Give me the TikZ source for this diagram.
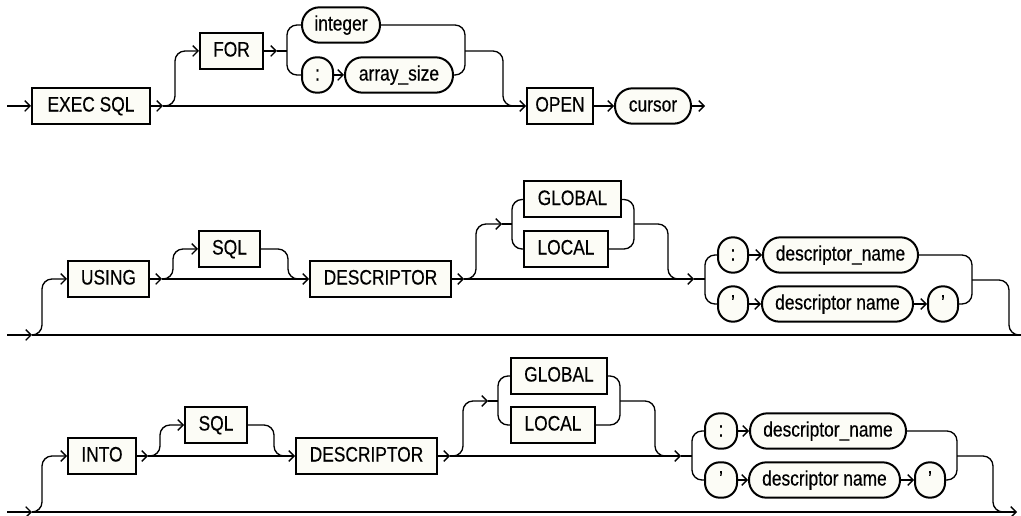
\documentclass[tikz,border=0pt]{standalone}
\usepackage{fontspec}
\setmainfont{Liberation Sans}[FakeStretch=0.83,FakeBold=0.4]
\usetikzlibrary{arrows.meta}
\definecolor{boxfill}{RGB}{252,252,246}
\begin{document}
\begin{tikzpicture}[x=0.75pt,y=-0.75pt,
  line width=1pt,
  arr/.style={-{Straight Barb[length=4pt,width=8pt,line width=1pt]}},
  rc/.style={rounded corners=7.5pt},
  base/.style={draw, line width=1.5pt, fill=boxfill, inner sep=0pt,
    font=\fontsize{15.7}{18}\selectfont, text height=11.3pt, text depth=3pt},
  kw/.style={base, rectangle, minimum height=27pt},
  var/.style={base, rectangle, rounded corners=13pt, minimum height=26.5pt},
  circ/.style={base, rectangle, rounded corners=11pt, minimum height=26.5pt},
  wd/.style={minimum width=#1*0.75pt}]
\useasboundingbox (0,0) rectangle (1021,516);

% ---------- Row 1 ----------
\node[kw,wd=118] (exec) at (91,106) {EXEC SQL};
\node[kw,wd=63] (for) at (231.5,51) {FOR};
\node[var,wd=78] (integer) at (341,25) {integer};
\node[circ,wd=31] (colon1) at (317.5,75) {:};
\node[var,wd=108] (asize) at (399,75) {array\_size};
\node[kw,wd=66] (open) at (560,106) {OPEN};
\node[var,wd=76] (cursor) at (653,106) {cursor};

\coordinate (s0) at (7,106);
\coordinate (j1) at (163,106);
\coordinate (j2) at (277,51);
\coordinate (e1) at (705,106);
\draw[arr] (s0) -- (exec.west);
\draw[arr] (exec.east) -- (j1);
\draw[arr] (j1) -- (open.west);
\draw[arr,rc] (j1) -- (175,106) -- (175,51) -- (for.west);
\draw[arr] (for.east) -- (j2);
\draw (j2) -- (287,51);
\draw[rc] (integer.west) -- (287,25) -- (287,75) -- (colon1.west);
\draw[arr] (colon1.east) -- (asize.west);
\draw[rc] (integer.east) -- (465,25) -- (465,75) -- (asize.east);
\draw[rc] (465,51) -- (503,51) -- (503,106) -- (515,106);
\draw[arr] (open.east) -- (cursor.west);
\draw[arr] (cursor.east) -- (e1);

% ---------- Row 2 ----------
\node[kw,wd=81] (using) at (108.5,279) {USING};
\node[kw,wd=61] (sql2) at (229.5,249) {SQL};
\node[kw,wd=141] (desc2) at (380.5,279) {DESCRIPTOR};
\node[kw,wd=97] (glob2) at (572.5,199.5) {GLOBAL};
\node[kw,wd=84] (loc2) at (566,249) {LOCAL};
\node[circ,wd=30] (col2) at (733,255) {:};
\node[var,wd=155] (dna2) at (840.5,255) {descriptor\_name};
\node[circ,wd=30] (qa2) at (733,304) {'};
\node[var,wd=151] (dnb2) at (837.5,304) {descriptor name};
\node[circ,wd=30] (qb2) at (943,304) {'};

\coordinate (s2) at (7,335);
\coordinate (k2) at (32,335);
\coordinate (e2) at (1021,335);
\coordinate (j3) at (162,279);
\coordinate (j4) at (464,279);
\coordinate (j5) at (694,279);
\coordinate (j6) at (502,224);
\draw[arr] (s2) -- (k2);
\draw (k2) -- (e2);
\draw[arr,rc] (k2) -- (42,335) -- (42,279) -- (using.west);
\draw[arr] (using.east) -- (j3);
\draw[arr] (j3) -- (desc2.west);
\draw[arr,rc] (j3) -- (173,279) -- (173,249) -- (sql2.west);
\draw[rc] (sql2.east) -- (288,249) -- (288,279) -- (300,279);
\draw[arr] (desc2.east) -- (j4);
\draw[arr] (j4) -- (j5);
\draw[arr,rc] (j4) -- (476,279) -- (476,224) -- (j6);
\draw (j6) -- (512,224);
\draw[rc] (glob2.west) -- (512,199.5) -- (512,249) -- (loc2.west);
\draw[rc] (glob2.east) -- (634,199.5) -- (634,249) -- (loc2.east);
\draw[rc] (634,224) -- (668,224) -- (668,279) -- (680,279);
\draw (j5) -- (705,279);
\draw[rc] (col2.west) -- (705,255) -- (705,304) -- (qa2.west);
\draw[arr] (col2.east) -- (dna2.west);
\draw[arr] (qa2.east) -- (dnb2.west);
\draw[arr] (dnb2.east) -- (qb2.west);
\draw[rc] (dna2.east) -- (972,255) -- (972,304) -- (qb2.east);
\draw[rc] (972,280) -- (1009,280) -- (1009,335) -- (e2);

% ---------- Row 3 ----------
\node[kw,wd=68] (into) at (102,456) {INTO};
\node[kw,wd=62] (sql3) at (216,425) {SQL};
\node[kw,wd=141] (desc3) at (366.5,456) {DESCRIPTOR};
\node[kw,wd=96] (glob3) at (559,376) {GLOBAL};
\node[kw,wd=84] (loc3) at (553,425) {LOCAL};
\node[circ,wd=32] (col3) at (721,431) {:};
\node[var,wd=156] (dna3) at (828,431) {descriptor\_name};
\node[circ,wd=32] (qa3) at (721,480) {'};
\node[var,wd=151] (dnb3) at (824.5,480) {descriptor name};
\node[circ,wd=30] (qb3) at (930,480) {'};

\coordinate (s3) at (7,512);
\coordinate (k3) at (32,512);
\coordinate (e3) at (1017,512);
\coordinate (j7) at (148,456);
\coordinate (j8) at (450,456);
\coordinate (j9) at (681,456);
\coordinate (j10) at (488,401);
\draw[arr] (s3) -- (k3);
\draw[arr] (k3) -- (e3);
\draw[arr,rc] (k3) -- (42,512) -- (42,456) -- (into.west);
\draw[arr] (into.east) -- (j7);
\draw[arr] (j7) -- (desc3.west);
\draw[arr,rc] (j7) -- (160,456) -- (160,425) -- (sql3.west);
\draw[rc] (sql3.east) -- (274,425) -- (274,456) -- (286,456);
\draw[arr] (desc3.east) -- (j8);
\draw[arr] (j8) -- (j9);
\draw (j9) -- (692,456);
\draw[arr,rc] (j8) -- (463,456) -- (463,401) -- (j10);
\draw (j10) -- (498,401);
\draw[rc] (glob3.west) -- (498,376) -- (498,425) -- (loc3.west);
\draw[rc] (glob3.east) -- (620,376) -- (620,425) -- (loc3.east);
\draw[rc] (620,401) -- (655,401) -- (655,456) -- (667,456);
\draw[rc] (col3.west) -- (692,431) -- (692,480) -- (qa3.west);
\draw[arr] (col3.east) -- (dna3.west);
\draw[arr] (qa3.east) -- (dnb3.west);
\draw[arr] (dnb3.east) -- (qb3.west);
\draw[rc] (dna3.east) -- (957,431) -- (957,480) -- (qb3.east);
\draw[rc] (957,456) -- (993,456) -- (993,512) -- (1005,512);
\end{tikzpicture}
\end{document}
